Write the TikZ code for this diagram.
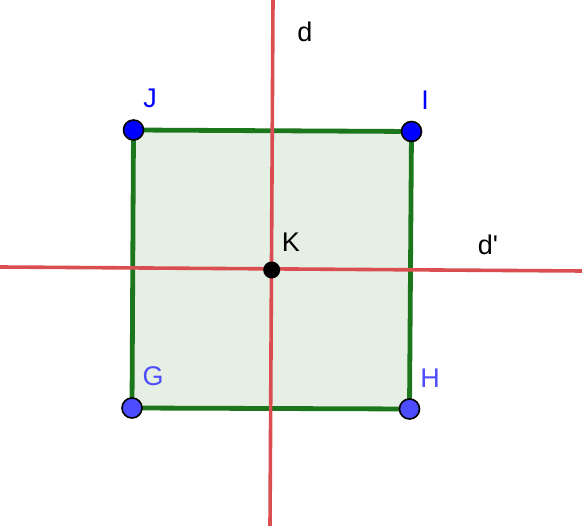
\documentclass[tikz,border=0pt]{standalone}
\usepackage{fontspec}
\setmainfont{Liberation Sans}
\definecolor{linered}{RGB}{218,78,82}
\definecolor{sqgreen}{RGB}{28,118,28}
\definecolor{sqfill}{RGB}{229,239,227}
\definecolor{ptblue}{RGB}{0,0,255}
\definecolor{ptlight}{RGB}{77,77,255}
\tikzset{
  x=1pt,y=-1pt,
  redline/.style={draw=linered,line width=3.6pt},
  pt/.style={circle,draw=black,line width=1.6pt,minimum size=20pt,inner sep=0pt},
  lbl/.style={font=\fontsize{27}{30}\selectfont,inner sep=0pt},
}
\begin{document}
\begin{tikzpicture}
\useasboundingbox (0,0) rectangle (582,526);
\coordinate (J) at (133.5,130);
\coordinate (I) at (411.5,131.5);
\coordinate (H) at (409.5,409);
\coordinate (G) at (132,408);
\filldraw[fill=sqfill,draw=sqgreen,line width=4.8pt] (J) -- (I) -- (H) -- (G) -- cycle;
\coordinate (dtop) at (273,0);
\coordinate (dbot) at (270,526);
\coordinate (dpl) at (0,267);
\coordinate (dpr) at (582,271);
\draw[redline] (dtop) -- (dbot);
\draw[redline] (dpl) -- (dpr);
\node[pt,fill=ptblue] (Jn) at (J) {};
\node[pt,fill=ptblue] (In) at (I) {};
\node[pt,fill=ptlight] (Gn) at (G) {};
\node[pt,fill=ptlight] (Hn) at (H) {};
\node[circle,fill=black,minimum size=17pt,inner sep=0pt] (K) at (271.7,270) {};
\node[lbl,text=ptblue] (Jl) at (150,98) {J};
\node[lbl,text=ptblue] (Il) at (425,100) {I};
\node[lbl,text=ptlight] (Gl) at (153,376) {G};
\node[lbl,text=ptlight] (Hl) at (430,378) {H};
\node[lbl] (Kl) at (291,242) {K};
\node[lbl] (dl) at (305,32) {d};
\node[lbl] (dpl2) at (488,245) {d\textquotesingle};
\end{tikzpicture}
\end{document}
